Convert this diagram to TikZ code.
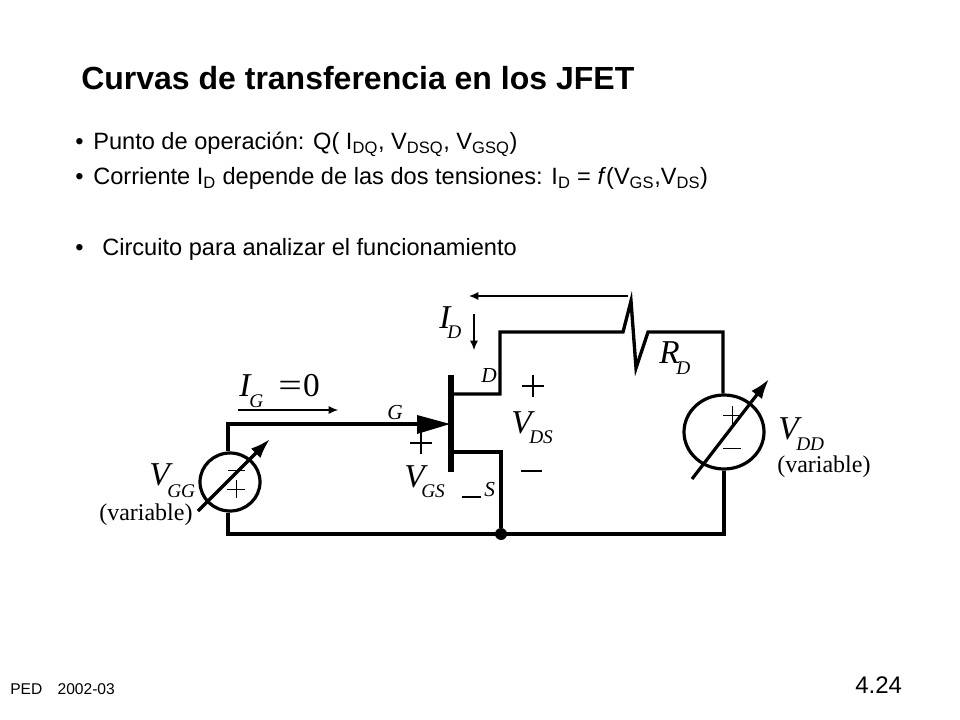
\documentclass[tikz,border=0pt]{standalone}
\usepackage{fontspec}
\usepackage{graphicx}
\setmainfont{Liberation Sans}
\newfontfamily\ser{Liberation Serif}
\usetikzlibrary{arrows.meta,shapes.geometric}
\tikzset{
  wire/.style={line width=2.5pt,line cap=butt,line join=miter},
  thinarrow/.style={line width=0.8pt,-{Latex[length=7pt,width=6pt]}},
  vararrow/.style={line width=2.4pt,-{Latex[length=15pt,width=10pt]}},
  srcnode/.style={draw,ellipse,line width=2.4pt,inner sep=0pt},
  body/.style={anchor=base west,inner sep=0pt,font=\fontsize{17.7}{21}\selectfont},
  sv/.style={anchor=base west,inner sep=0pt,font=\ser\itshape\fontsize{25}{30}\selectfont},
  ssub/.style={anchor=base west,inner sep=0pt,font=\ser\itshape\fontsize{14.5}{18}\selectfont},
  sterm/.style={anchor=base west,inner sep=0pt,font=\ser\itshape\fontsize{16}{20}\selectfont},
  svar/.style={anchor=base west,inner sep=0pt,font=\ser\fontsize{18}{21}\selectfont},
  signthick/.style={line width=2.1pt},
  signthin/.style={line width=0.7pt},
}
\newcommand{\sbs}[1]{\textsubscript{#1}}
\begin{document}
\begin{tikzpicture}[x=0.75pt,y=-0.75pt]
\useasboundingbox (0,0) rectangle (960,720);
% text
\node[anchor=base west,inner sep=0pt,font=\bfseries\fontsize{24}{28}\selectfont] (title) at (81,90) {Curvas de transferencia en los JFET};
\node[body] (b1) at (75,150) {•};
\node[body] (t1) at (93,150) {Punto de operación: Q( I\sbs{DQ}, V\sbs{DSQ}, V\sbs{GSQ})};
\node[body] (b2) at (75,185) {•};
\node[body] (t2) at (93,185) {Corriente I\sbs{D} depende de las dos tensiones: I\sbs{D} = \textit{f}(V\sbs{GS},V\sbs{DS})};
\node[body] (b3) at (75,256) {•};
\node[body] (t3) at (102,256) {Circuito para analizar el funcionamiento};
\node[anchor=base west,inner sep=0pt,font=\fontsize{11.7}{14}\selectfont] (ped) at (10,694) {PED\hspace{0.7em} 2002-03};
\node[anchor=base west,inner sep=0pt,font=\fontsize{18}{21}\selectfont] (num) at (855,693) {4.24};
% sources
\node[srcnode,minimum width=45pt,minimum height=43.5pt] (vgg) at (230,482) {};
\node[srcnode,minimum width=60pt,minimum height=55.5pt] (vdd) at (724,432) {};
% junctions
\coordinate (gl) at (228,424);
\coordinate (gt) at (417,424);
\coordinate (gtip) at (450,424);
\coordinate (gtop) at (417,415);
\coordinate (gbot) at (417,434);
\coordinate (bart) at (451,375);
\coordinate (barb) at (451,472);
\coordinate (dl) at (451,394);
\coordinate (dc) at (500,394);
\coordinate (dt) at (500,332);
\coordinate (r0) at (623,332);
\coordinate (r1) at (631,301);
\coordinate (r2) at (636,368);
\coordinate (r3) at (648,332);
\coordinate (tr) at (723,332);
\coordinate (sl) at (451,452);
\coordinate (sc) at (501,452);
\coordinate (br) at (724,534);
\coordinate (bl) at (228,534);
\node[circle,fill=black,inner sep=0pt,minimum size=9pt] (junction) at (501,534) {};
% wires
\draw[wire] (vgg.north -| gl) -- (gl) -- (gt);
\fill (gtop) -- (gtip) -- (gbot) -- cycle;
\draw[line width=4pt] (bart) -- (barb);
\draw[wire] (dl) -- (dc) -- (dt) -- (r0) -- (r1) -- (r2) -- (r3) -- (tr) -- (vdd.north -| tr);
\draw[wire] (sl) -- (sc) -- (junction);
\draw[wire] (vdd.south) -- (br) -- (bl) -- (vgg.south -| bl);
% variable arrows
\coordinate (ga) at (198,511); \coordinate (gb) at (270,439);
\coordinate (da) at (692,479); \coordinate (db) at (769,379);
\draw[vararrow] (ga) -- (gb);
\draw[vararrow] (da) -- (db);
% current arrows
\coordinate (ia) at (628,296); \coordinate (ib) at (469,296);
\coordinate (ic) at (474,314); \coordinate (id) at (474,350);
\coordinate (ie) at (238,410); \coordinate (if) at (338,410);
\draw[thinarrow] (ia) -- (ib);
\draw[thinarrow] (ic) -- (id);
\draw[thinarrow] (ie) -- (if);
% source signs
\draw[signthin] (228,470) -- (245,470);
\draw[signthin] (227,489) -- (245,489) (236,480) -- (236,498);
\draw[signthin] (723,415) -- (741,415) (732,406) -- (732,424);
\draw[signthin] (723,448) -- (741,448);
% big signs
\draw[signthick] (410,443) -- (432,443) (421,432) -- (421,454);
\draw[signthick] (462,497) -- (481,497);
\draw[signthick] (522,386) -- (544,386) (533,375) -- (533,397);
\draw[signthick] (521,471) -- (542,471);
% labels
\node[sv] (lid) at (439,328) {I};
\node[ssub] (lidd) at (447,339) {D};
\node[sv] (lrd) at (659,363) {R};
\node[ssub] (lrdd) at (676,374) {D};
\node[sv] (lig) at (239,396) {I};
\node[ssub] (ligg) at (249,407) {G};
\node[anchor=base west,inner sep=0pt,font=\ser\fontsize{25}{30}\selectfont] (lzero) at (278,396) {\scalebox{1.25}[1]{=}\hspace{1pt}0};
\node[sterm] (ld) at (481,382) {D};
\node[sterm] (lg) at (387,419) {G};
\node[sterm] (ls) at (484,496) {S};
\node[sv] (lvgs) at (404,487) {V};
\node[ssub] (lvgss) at (421,497) {GS};
\node[sv] (lvds) at (511,433) {V};
\node[ssub] (lvdss) at (529,443) {DS};
\node[sv] (lvgg) at (149,485) {V};
\node[ssub] (lvggs) at (167,497) {GG};
\node[sv] (lvdd) at (778,439) {V};
\node[ssub] (lvdds) at (796,450) {DD};
\node[svar] (lv1) at (99,520) {(variable)};
\node[svar] (lv2) at (777,472) {(variable)};
\end{tikzpicture}
\end{document}
